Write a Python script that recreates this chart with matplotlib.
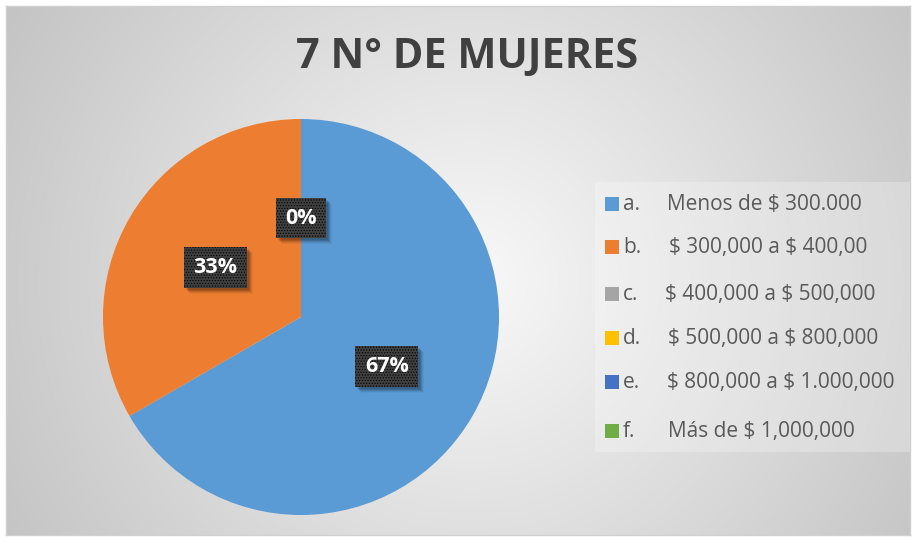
import numpy as np
import matplotlib
matplotlib.use("Agg")
import matplotlib.pyplot as plt
from matplotlib.patches import Rectangle

# ---- data ----
title = "7 N° DE MUJERES"
letters = ["a.", "b.", "c.", "d.", "e.", "f."]
categories = ["Menos de $ 300.000", "$ 300,000 a $ 400,00", "$ 400,000 a $ 500,000",
              "$ 500,000 a $ 800,000", "$ 800,000 a $ 1.000,000", "Más de $ 1,000,000"]
values = [2, 1, 0, 0, 0, 0]
colors = ["#5B9BD5", "#ED7D31", "#A5A5A5", "#FFC000", "#4472C4", "#70AD47"]

plt.rcParams['font.family'] = ['Open Sans', 'DejaVu Sans']
plt.rcParams['hatch.color'] = '#585858'
plt.rcParams['hatch.linewidth'] = 0.5

W, H = 915, 541
fig = plt.figure(figsize=(W / 100, H / 100), dpi=100)
fig.patch.set_facecolor('white')

# ---- background chart area with radial gradient ----
x0, y0, x1, y1 = 6, 6, 910, 535  # pixels from top-left
bg = fig.add_axes([x0 / W, 1 - y1 / H, (x1 - x0) / W, (y1 - y0) / H])
gx = np.arange(x0, x1)
gy = np.arange(y0, y1)
GX, GY = np.meshgrid(gx, gy)
cx, cy = 470, 280
d = np.sqrt((GX - cx) ** 2 + (GY - cy) ** 2) / 530.0
v = 0.975 - 0.205 * d
img = np.dstack([v, v, v])
bg.imshow(img, extent=[0, 1, 0, 1], aspect='auto', interpolation='bilinear')
bg.set_xlim(0, 1)
bg.set_ylim(0, 1)
for s in bg.spines.values():
    s.set_color('#d0d0d0')
    s.set_linewidth(1.0)
bg.set_xticks([])
bg.set_yticks([])

# ---- title ----
fig.text(467 / W, 1 - 57 / H, title, ha='center', va='center',
         fontsize=29.8, fontweight='bold', color='#404040')

# ---- pie ----
pcx, pcy, r = 301, 317, 198
ax = fig.add_axes([(pcx - r) / W, 1 - (pcy + r) / H, 2 * r / W, 2 * r / H])
wedges, texts, autotexts = ax.pie(values, colors=colors, startangle=90, counterclock=False,
                                  autopct='%1.0f%%', pctdistance=0.5, radius=1.0,
                                  wedgeprops=dict(linewidth=0))
ax.set_xlim(-1, 1)
ax.set_ylim(-1, 1)
ax.set_aspect('equal')
ax.axis('off')

seen = set()
shown = []
for t in autotexts:
    pos = t.get_position()
    key = (round(pos[0], 3), round(pos[1], 3))
    if key in seen:
        t.set_visible(False)
        continue
    seen.add(key)
    t.set_color('white')
    t.set_fontsize(15.5)
    t.set_fontweight('bold')
    t.set_zorder(5)
    t.set_bbox(dict(boxstyle='square,pad=0.45', facecolor='#404040', hatch='......', linewidth=0))
    shown.append(t)

fig.canvas.draw()
for t in shown:
    ext = t.get_bbox_patch().get_window_extent()
    for k, a in [(2, 0.10), (3, 0.12), (4, 0.10), (5, 0.07), (6, 0.04)]:
        fig.patches.append(Rectangle((ext.x0 + k, ext.y0 - k), ext.width, ext.height,
                                     transform=None, facecolor='black', alpha=a,
                                     edgecolor='none', zorder=0.5))
# draw shadows beneath the pie labels: put them in a dedicated axes above pie axes
sh = fig.add_axes(ax.get_position(), facecolor='none')
sh.axis('off')
for p in list(fig.patches):
    fig.patches.remove(p)
    p.set_transform(None)
    sh.add_artist(p)
sh.set_zorder(ax.get_zorder() + 0.5)
# label layer on top of shadows
lab = fig.add_axes(ax.get_position(), facecolor='none')
lab.set_xlim(ax.get_xlim())
lab.set_ylim(ax.get_ylim())
lab.set_aspect('equal')
lab.axis('off')
lab.set_zorder(ax.get_zorder() + 1)
for t in shown:
    x, y = t.get_position()
    s = t.get_text()
    t.set_visible(False)
    lab.text(x, y, s, ha='center', va='center', color='white', fontsize=15.5,
             fontweight='bold',
             bbox=dict(boxstyle='square,pad=0.45', facecolor='#404040', hatch='......', linewidth=0))

# ---- legend ----
lg = fig.add_axes([0, 0, 1, 1], facecolor='none')
lg.set_zorder(10)
lg.set_xlim(0, W)
lg.set_ylim(H, 0)
lg.axis('off')
lg.add_patch(Rectangle((595, 182), 315, 270, facecolor='white', alpha=0.25, edgecolor='none'))
rows = [204, 247, 294, 338, 382, 431]
text_x = [667, 669, 665, 668, 667, 668]
for i, cat in enumerate(categories):
    yy = rows[i]
    lg.add_patch(Rectangle((605, yy - 7), 14, 14, facecolor=colors[i], edgecolor='none'))
    lg.text(623, yy + 6, letters[i], ha='left', va='baseline', fontsize=15, color='#595959',
            parse_math=False)
    lg.text(text_x[i], yy + 6, cat, ha='left', va='baseline', fontsize=15, color='#595959',
            parse_math=False)

fig.savefig('out.png', dpi=100)
